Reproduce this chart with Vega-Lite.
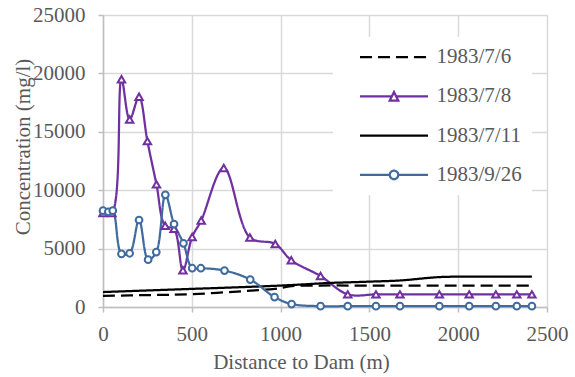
{
  "$schema": "https://vega.github.io/schema/vega-lite/v6.json",
  "width": 444,
  "height": 292,
  "autosize": {"type": "none"},
  "padding": {"left": 103, "top": 15, "right": 28, "bottom": 70},
  "background": "white",
  "config": {"view": {"stroke": null}, "font": "Liberation Serif"},
  "data": {
    "values": [
      {"series": "1983/7/6", "distance": 0, "conc": 950},
      {"series": "1983/7/6", "distance": 250, "conc": 1020},
      {"series": "1983/7/6", "distance": 500, "conc": 1100},
      {"series": "1983/7/6", "distance": 830, "conc": 1400},
      {"series": "1983/7/6", "distance": 966, "conc": 1550},
      {"series": "1983/7/6", "distance": 1062, "conc": 1780},
      {"series": "1983/7/6", "distance": 1225, "conc": 1840},
      {"series": "1983/7/6", "distance": 1378, "conc": 1840},
      {"series": "1983/7/6", "distance": 1537, "conc": 1840},
      {"series": "1983/7/6", "distance": 1672, "conc": 1840},
      {"series": "1983/7/6", "distance": 1894, "conc": 1840},
      {"series": "1983/7/6", "distance": 2062, "conc": 1840},
      {"series": "1983/7/6", "distance": 2212, "conc": 1840},
      {"series": "1983/7/6", "distance": 2330, "conc": 1840},
      {"series": "1983/7/6", "distance": 2415, "conc": 1840},

      {"series": "1983/7/8", "distance": 0, "conc": 8050},
      {"series": "1983/7/8", "distance": 50, "conc": 8050},
      {"series": "1983/7/8", "distance": 104, "conc": 19500},
      {"series": "1983/7/8", "distance": 150, "conc": 16050},
      {"series": "1983/7/8", "distance": 203, "conc": 18000},
      {"series": "1983/7/8", "distance": 250, "conc": 14200},
      {"series": "1983/7/8", "distance": 301, "conc": 10500},
      {"series": "1983/7/8", "distance": 350, "conc": 6950},
      {"series": "1983/7/8", "distance": 400, "conc": 6700},
      {"series": "1983/7/8", "distance": 450, "conc": 3150},
      {"series": "1983/7/8", "distance": 502, "conc": 6000},
      {"series": "1983/7/8", "distance": 553, "conc": 7400},
      {"series": "1983/7/8", "distance": 680, "conc": 11900},
      {"series": "1983/7/8", "distance": 827, "conc": 5950},
      {"series": "1983/7/8", "distance": 970, "conc": 5400},
      {"series": "1983/7/8", "distance": 1060, "conc": 4000},
      {"series": "1983/7/8", "distance": 1225, "conc": 2650},
      {"series": "1983/7/8", "distance": 1378, "conc": 1080},
      {"series": "1983/7/8", "distance": 1537, "conc": 1080},
      {"series": "1983/7/8", "distance": 1672, "conc": 1080},
      {"series": "1983/7/8", "distance": 1894, "conc": 1080},
      {"series": "1983/7/8", "distance": 2062, "conc": 1080},
      {"series": "1983/7/8", "distance": 2212, "conc": 1080},
      {"series": "1983/7/8", "distance": 2330, "conc": 1080},
      {"series": "1983/7/8", "distance": 2415, "conc": 1080},

      {"series": "1983/7/11", "distance": 0, "conc": 1280},
      {"series": "1983/7/11", "distance": 500, "conc": 1550},
      {"series": "1983/7/11", "distance": 883, "conc": 1760},
      {"series": "1983/7/11", "distance": 1062, "conc": 1880},
      {"series": "1983/7/11", "distance": 1277, "conc": 2060},
      {"series": "1983/7/11", "distance": 1378, "conc": 2110},
      {"series": "1983/7/11", "distance": 1537, "conc": 2190},
      {"series": "1983/7/11", "distance": 1672, "conc": 2270},
      {"series": "1983/7/11", "distance": 1894, "conc": 2560},
      {"series": "1983/7/11", "distance": 2062, "conc": 2600},
      {"series": "1983/7/11", "distance": 2212, "conc": 2600},
      {"series": "1983/7/11", "distance": 2330, "conc": 2600},
      {"series": "1983/7/11", "distance": 2415, "conc": 2600},

      {"series": "1983/9/26", "distance": 0, "conc": 8250},
      {"series": "1983/9/26", "distance": 30, "conc": 8150},
      {"series": "1983/9/26", "distance": 55, "conc": 8250},
      {"series": "1983/9/26", "distance": 104, "conc": 4550},
      {"series": "1983/9/26", "distance": 150, "conc": 4600},
      {"series": "1983/9/26", "distance": 203, "conc": 7450},
      {"series": "1983/9/26", "distance": 254, "conc": 4050},
      {"series": "1983/9/26", "distance": 300, "conc": 4700},
      {"series": "1983/9/26", "distance": 351, "conc": 9600},
      {"series": "1983/9/26", "distance": 400, "conc": 7100},
      {"series": "1983/9/26", "distance": 453, "conc": 5450},
      {"series": "1983/9/26", "distance": 502, "conc": 3320},
      {"series": "1983/9/26", "distance": 551, "conc": 3320},
      {"series": "1983/9/26", "distance": 684, "conc": 3120},
      {"series": "1983/9/26", "distance": 829, "conc": 2350},
      {"series": "1983/9/26", "distance": 966, "conc": 850},
      {"series": "1983/9/26", "distance": 1062, "conc": 250},
      {"series": "1983/9/26", "distance": 1225, "conc": 70},
      {"series": "1983/9/26", "distance": 1378, "conc": 70},
      {"series": "1983/9/26", "distance": 1537, "conc": 70},
      {"series": "1983/9/26", "distance": 1672, "conc": 70},
      {"series": "1983/9/26", "distance": 1894, "conc": 70},
      {"series": "1983/9/26", "distance": 2062, "conc": 70},
      {"series": "1983/9/26", "distance": 2212, "conc": 70},
      {"series": "1983/9/26", "distance": 2330, "conc": 70},
      {"series": "1983/9/26", "distance": 2415, "conc": 70}
    ]
  },
  "encoding": {
    "x": {
      "field": "distance",
      "type": "quantitative",
      "scale": {"domain": [0, 2500], "nice": false},
      "axis": {
        "title": "Distance to Dam (m)",
        "values": [0, 500, 1000, 1500, 2000, 2500],
        "format": "d",
        "grid": true,
        "gridColor": "#D9D9D9",
        "gridWidth": 1.5,
        "domainColor": "#BFBFBF",
        "domainWidth": 1.5,
        "tickColor": "#BFBFBF",
        "tickWidth": 1.5,
        "tickSize": 5,
        "labelFont": "Liberation Serif",
        "labelFontSize": 21,
        "labelColor": "#595959",
        "labelPadding": 11.5,
        "labelFlush": false,
        "labelOverlap": false,
        "titleFont": "Liberation Serif",
        "titleFontSize": 21,
        "titleFontWeight": "normal",
        "titleColor": "#595959",
        "titleX": 198,
        "titleY": 44.7,
        "titleAlign": "center",
        "titleBaseline": "top"
      }
    },
    "y": {
      "field": "conc",
      "type": "quantitative",
      "scale": {"domain": [0, 25000], "nice": false},
      "axis": {
        "title": "Concentration (mg/l)",
        "values": [0, 5000, 10000, 15000, 20000, 25000],
        "format": "d",
        "grid": true,
        "gridColor": "#D9D9D9",
        "gridWidth": 1.5,
        "domainColor": "#BFBFBF",
        "domainWidth": 1.5,
        "tickColor": "#BFBFBF",
        "tickWidth": 1.5,
        "tickSize": 5,
        "labelFont": "Liberation Serif",
        "labelFontSize": 21,
        "labelColor": "#595959",
        "labelPadding": 13,
        "labelFlush": false,
        "labelOverlap": false,
        "titleFont": "Liberation Serif",
        "titleFontSize": 21,
        "titleFontWeight": "normal",
        "titleColor": "#595959",
        "titleAngle": -90,
        "titleX": -74,
        "titleY": 131.5,
        "titleAlign": "center",
        "titleBaseline": "alphabetic"
      }
    },
    "color": {
      "field": "series",
      "type": "nominal",
      "scale": {
        "domain": ["1983/7/6", "1983/7/8", "1983/7/11", "1983/9/26"],
        "range": ["#000000", "#7030A0", "#000000", "#3F6B9E"]
      },
      "legend": {
        "title": null,
        "orient": "none",
        "legendX": 230,
        "legendY": 22,
        "padding": 10,
        "fillColor": "white",
        "labelFont": "Liberation Serif",
        "labelFontSize": 21,
        "labelColor": "#595959",
        "labelOffset": 7,
        "labelLimit": 300,
        "symbolSize": 4624,
        "symbolStrokeWidth": 2.25,
        "symbolOffset": 15.5,
        "clipHeight": 20,
        "rowPadding": 18.3,
        "encode": {
          "symbols": {
            "update": {
              "shape": {"signal": "datum.value === '1983/7/8' ? 'M-1,0H-0.0625M0.0625,0H1M-0.125,0.125L0,-0.125L0.125,0.125Z' : datum.value === '1983/9/26' ? 'M-1,0H-0.125M0.125,0H1M0.125,0A0.125,0.125,0,1,1,-0.125,0A0.125,0.125,0,1,1,0.125,0Z' : 'M-1,0H1'"},
              "stroke": {"signal": "datum.value === '1983/7/8' ? '#7030A0' : datum.value === '1983/9/26' ? '#3F6B9E' : '#000000'"},
              "strokeDash": {"signal": "datum.value === '1983/7/6' ? [9, 9] : [1, 0]"},
              "fill": {"value": "white"},
              "opacity": {"value": 1},
              "strokeWidth": {"value": 2.25},
              "size": {"value": 4624}
            }
          }
        }
      }
    }
  },
  "layer": [
    {
      "mark": {"type": "line", "interpolate": "catmull-rom", "strokeWidth": 2.25},
      "encoding": {
        "strokeDash": {
          "field": "series",
          "type": "nominal",
          "scale": {
            "domain": ["1983/7/6", "1983/7/8", "1983/7/11", "1983/9/26"],
            "range": [[12, 6], [1, 0], [1, 0], [1, 0]]
          },
          "legend": null
        }
      }
    },
    {
      "transform": [{"filter": "datum.series === '1983/7/8'"}],
      "mark": {"type": "point", "shape": "triangle-up", "filled": false, "fill": "white", "size": 55, "strokeWidth": 2, "opacity": 1}
    },
    {
      "transform": [{"filter": "datum.series === '1983/9/26'"}],
      "mark": {"type": "point", "shape": "circle", "filled": false, "fill": "white", "size": 45, "strokeWidth": 2, "opacity": 1}
    }
  ]
}
